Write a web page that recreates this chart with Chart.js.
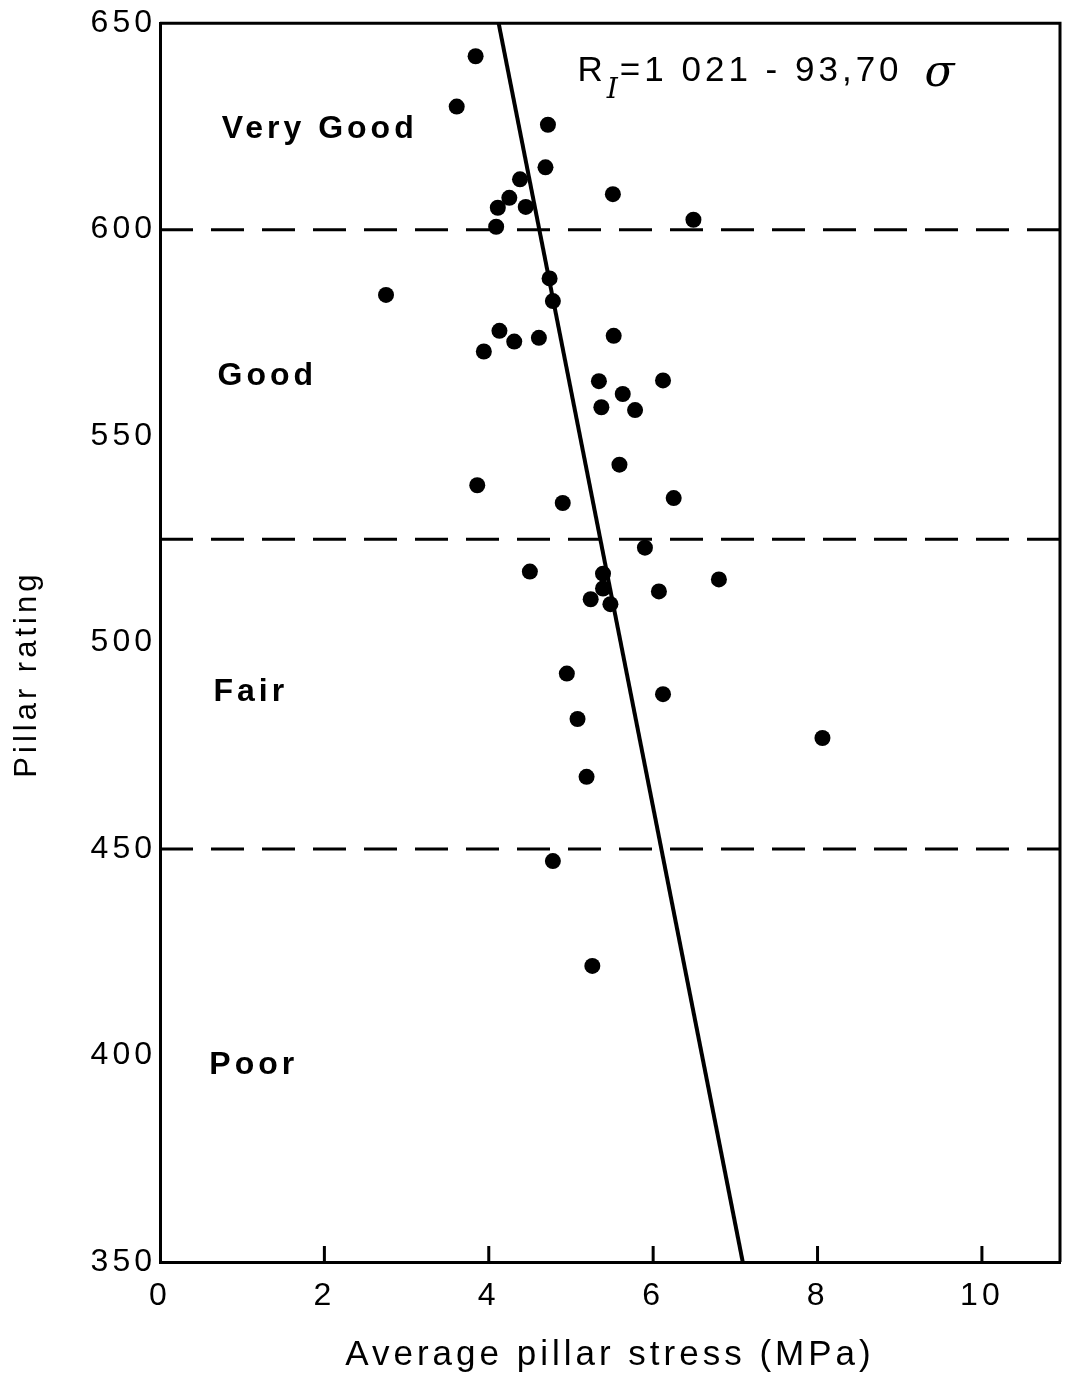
<!DOCTYPE html>
<html>
<head>
<meta charset="utf-8">
<script src="https://cdn.jsdelivr.net/npm/chart.js@4.4.0/dist/chart.umd.min.js"></script>
<style>
  html, body { margin: 0; padding: 0; background: #fff; overflow: hidden; }
  canvas { display: block; }
</style>
</head>
<body>
<canvas id="pillarChart" width="1068" height="1380"></canvas>
<script>
'use strict'

// average pillar stress (MPa), one entry per pillar
const stress = [3.84, 3.61, 4.72, 4.69, 4.38, 4.25, 4.11, 4.45, 4.09, 5.51, 6.49,
	2.75, 4.74, 4.78, 4.13, 3.94, 4.31, 4.61, 5.52, 5.34, 6.12, 5.63, 5.37, 5.78,
	5.59, 3.86, 4.90, 6.25, 5.90, 4.50, 5.39, 5.39, 5.24, 5.48, 6.07, 6.80,
	4.95, 6.12, 5.08, 8.06, 5.19, 4.78, 5.26];
// pillar rating R_I, same order
const rating = [642.0, 629.8, 625.4, 615.1, 612.2, 607.7, 605.3, 605.5, 600.7, 608.6, 602.4,
	584.2, 588.2, 582.7, 575.5, 570.5, 572.9, 573.8, 574.3, 563.3, 563.5, 560.2, 557.0, 556.3,
	543.1, 538.1, 533.8, 535.0, 523.0, 517.2, 516.7, 513.1, 510.5, 509.3, 512.4, 515.3,
	492.5, 487.5, 481.5, 476.9, 467.5, 447.1, 421.7];

// regression line ends as drawn
const fitStress = [4.12, 7.09];
const fitRating = [650, 350];

const classLimits = [600, 525, 450];
const classNames = ['Very Good', 'Good', 'Fair', 'Poor'];

const xTicks = [0, 2, 4, 6, 8, 10];
const yTicks = [350, 400, 450, 500, 550, 600, 650];
const xMax = 10.95;

const FONT = '"Liberation Sans", Arial, sans-serif';

let points = stress.map((s, i) => ({ x: s, y: rating[i] }));
let fitLine = fitStress.map((s, i) => ({ x: s, y: fitRating[i] }));

let datasets = [{
	label: 'Pillars',
	data: points,
	showLine: false,
	pointRadius: 8,
	pointBackgroundColor: '#000',
	pointBorderWidth: 0
}, {
	label: 'Fit',
	data: fitLine,
	showLine: true,
	borderColor: '#000',
	borderWidth: 4,
	pointRadius: 0
}];
classLimits.forEach((lim) => {
	datasets.push({
		label: 'limit ' + lim,
		data: [{ x: 0, y: lim }, { x: xMax, y: lim }],
		showLine: true,
		borderColor: '#000',
		borderWidth: 3,
		borderDash: [33, 18],
		pointRadius: 0
	});
});

let framePlugin = {
	id: 'frame',
	beforeDraw: (chart) => {
		chart.ctx.letterSpacing = '4px';
	},
	afterDraw: (chart) => {
		let ctx = chart.ctx;
		let area = chart.chartArea;
		let xs = chart.scales.x;
		let ys = chart.scales.y;
		ctx.save();
		ctx.strokeStyle = '#000';
		ctx.lineWidth = 3;
		ctx.beginPath();
		ctx.moveTo(area.left, area.top);
		ctx.lineTo(area.right, area.top);
		ctx.lineTo(area.right, area.bottom);
		ctx.stroke();
		// inward ticks on the stress axis
		xTicks.slice(1).forEach((t) => {
			let px = xs.getPixelForValue(t);
			ctx.beginPath();
			ctx.moveTo(px, area.bottom);
			ctx.lineTo(px, area.bottom - 16);
			ctx.stroke();
		});

		ctx.fillStyle = '#000';
		ctx.textBaseline = 'middle';
		ctx.textAlign = 'left';
		// class names
		let spots = [[0.75, 624.4], [0.70, 564.6], [0.65, 488.1], [0.60, 397.6]];
		ctx.font = 'bold 32px ' + FONT;
		ctx.letterSpacing = '4px';
		classNames.forEach((name, i) => {
			ctx.fillText(name, xs.getPixelForValue(spots[i][0]), ys.getPixelForValue(spots[i][1]));
		});

		// equation
		let ex = xs.getPixelForValue(5.08);
		let ey = ys.getPixelForValue(638.4);
		ctx.font = '35px ' + FONT;
		ctx.letterSpacing = '4px';
		ctx.fillText('R', ex, ey);
		ex += ctx.measureText('R').width;
		ctx.font = 'italic 28px "DejaVu Serif", serif';
		ctx.letterSpacing = '0px';
		ctx.fillText('I', ex, ey + 20);
		ex += ctx.measureText('I').width + 2;
		ctx.font = '35px ' + FONT;
		ctx.letterSpacing = '4px';
		ctx.fillText('=1 021 - 93,70', ex, ey);
		ex += ctx.measureText('=1 021 - 93,70').width + 22;
		ctx.font = 'italic 44px "DejaVu Serif", serif';
		ctx.letterSpacing = '0px';
		ctx.fillText('σ', ex, ey + 3);
		ctx.restore();
	}
};

new Chart(document.getElementById('pillarChart'), {
	type: 'scatter',
	data: { datasets: datasets },
	plugins: [framePlugin],
	options: {
		responsive: false,
		animation: false,
		layout: { padding: { top: 23, right: 2, left: 0, bottom: 0 } },
		plugins: {
			legend: { display: false },
			tooltip: { enabled: false }
		},
		scales: {
			x: {
				type: 'linear',
				min: 0,
				max: xMax,
				afterBuildTicks: (scale) => {
					scale.ticks = xTicks.map((v) => ({ value: v }));
				},
				afterFit: (scale) => {
					scale.height = 118;
					scale.paddingLeft = 0;
					scale.paddingRight = 0;
				},
				grid: { display: false, drawTicks: false },
				border: { display: true, color: '#000', width: 3 },
				ticks: {
					color: '#000',
					padding: 15,
					font: { family: FONT, size: 32 }
				},
				title: {
					display: true,
					text: 'Average pillar stress (MPa)',
					color: '#000',
					font: { family: FONT, size: 35, lineHeight: 1 },
					padding: { top: 0, bottom: 7 }
				}
			},
			y: {
				type: 'linear',
				min: 350,
				max: 650,
				afterBuildTicks: (scale) => {
					scale.ticks = yTicks.map((v) => ({ value: v }));
				},
				afterFit: (scale) => {
					scale.width = 160;
				},
				grid: { display: false, drawTicks: false },
				border: { display: true, color: '#000', width: 3 },
				ticks: {
					color: '#000',
					padding: 4,
					font: { family: FONT, size: 32 }
				},
				title: {
					display: true,
					// trailing spaces nudge the rotated title down like the original
					text: 'Pillar rating     ',
					color: '#000',
					font: { family: FONT, size: 31, lineHeight: 1 },
					padding: { top: 12, bottom: 0 }
				}
			}
		}
	}
});
</script>
</body>
</html>
